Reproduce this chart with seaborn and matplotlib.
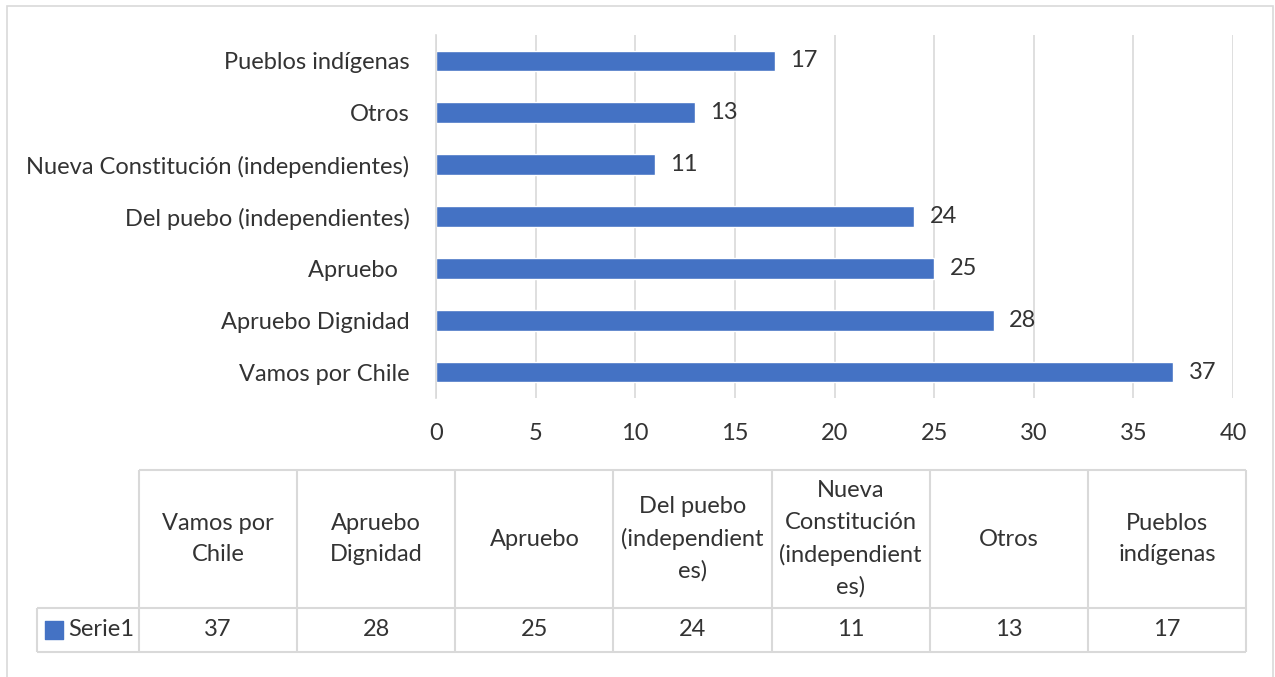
import matplotlib
matplotlib.use('Agg')
from matplotlib import pyplot as plt
from matplotlib.patches import Rectangle
import seaborn as sns
import pandas as pd

# data (table order)
categories = ['Vamos por Chile', 'Apruebo Dignidad', 'Apruebo  ', 'Del puebo (independientes)',
              'Nueva Constitución (independientes)', 'Otros', 'Pueblos indígenas']
table_labels = ['Vamos por\nChile', 'Apruebo\nDignidad', 'Apruebo', 'Del puebo\n(independient\nes)',
                'Nueva\nConstitución\n(independient\nes)', 'Otros', 'Pueblos\nindígenas']
values = [37, 28, 25, 24, 11, 13, 17]
series_name = 'Serie1'
x_ticks = [0, 5, 10, 15, 20, 25, 30, 35, 40]

BLUE = '#4472C4'
GRID = '#d9d9d9'
TXT = '#333333'
FS = 17

sns.set_theme(style='white')
plt.rcParams['font.family'] = ['Lato', 'DejaVu Sans']
plt.rcParams['font.weight'] = 'normal'

W, H = 1275, 677
fig = plt.figure(figsize=(W / 100, H / 100), dpi=100)


def px_rect(x0, y0, x1, y1):
    return [x0 / W, 1 - y1 / H, (x1 - x0) / W, (y1 - y0) / H]


# outer frame
fig.patches.append(Rectangle((6.5 / W, -0.01), (1273 - 6.5) / W, 1.01 - 6.5 / H, transform=fig.transFigure,
                             fill=False, edgecolor=GRID, lw=1.2))

""" bar chart """
df = pd.DataFrame({'cat': categories, 'val': values})
ax = fig.add_axes(px_rect(436, 35, 1233, 398))
sns.barplot(data=df, x='val', y='cat', order=categories[::-1], color=BLUE, saturation=1,
            width=0.4, ax=ax)
ax.set_xlim(0, 40)
ax.set_ylim(6.5, -0.5)
ax.set_xticks(x_ticks)
ax.grid(axis='x', color=GRID, lw=1.2)
ax.set_axisbelow(True)
for s in ['top', 'right', 'bottom']:
    ax.spines[s].set_visible(False)
ax.spines['left'].set_color(GRID)
ax.spines['left'].set_linewidth(1.2)
ax.set_xlabel('')
ax.set_ylabel('')
ax.tick_params(axis='x', length=0, pad=18, labelsize=FS, labelcolor=TXT)
ax.tick_params(axis='y', length=0, pad=19, labelsize=FS, labelcolor=TXT)
for c in ax.containers:
    ax.bar_label(c, padding=11, fontsize=FS, color=TXT)

""" data table """
n = len(values)
first_w = 102 / 158
head_h = 138 / 44
tab = fig.add_axes(px_rect(37, 470, 1246, 652))
tab.set_xlim(-first_w, n)
tab.set_ylim(0, 1 + head_h)
tab.axis('off')
lkw = dict(color=GRID, lw=1.5, clip_on=False)
tab.hlines([0, 1], -first_w, n, **lkw)
tab.hlines(1 + head_h, 0, n, **lkw)
tab.vlines([-first_w], 0, 1, **lkw)
tab.vlines(range(n + 1), 0, 1 + head_h, **lkw)
for i, (lab, v) in enumerate(zip(table_labels, values)):
    tab.text(i + 0.5, 1 + head_h / 2, lab, ha='center', va='center', fontsize=FS, color=TXT,
             linespacing=1.6)
    tab.text(i + 0.5, 0.5, str(v), ha='center', va='center', fontsize=FS, color=TXT)
tab.scatter([-first_w + 0.11], [0.5], marker='s', s=150, color=BLUE, clip_on=False)
tab.text(-first_w + 0.2, 0.5, series_name, ha='left', va='center', fontsize=FS, color=TXT)

fig.savefig('out.png', dpi=100)
